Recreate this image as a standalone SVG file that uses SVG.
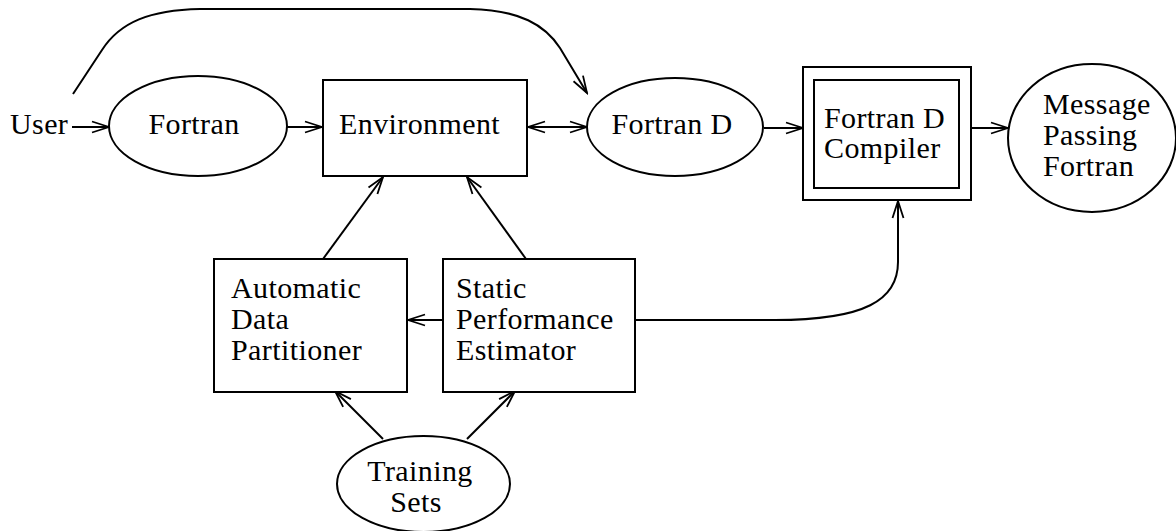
<svg xmlns="http://www.w3.org/2000/svg" width="1176" height="531" viewBox="0 0 1176 531">
<defs>
<marker id="ah" markerUnits="userSpaceOnUse" markerWidth="20" markerHeight="14" viewBox="0 0 20 14" refX="18" refY="7" orient="auto-start-reverse">
<path d="M1,1.5 L18,7 L1,12.5" fill="none" stroke="#000" stroke-width="1.8"/>
</marker>
<style>
.s{fill:#fff;stroke:#000;stroke-width:2}
.c{fill:none;stroke:#000;stroke-width:2}
.t{font-family:"Liberation Serif","Times New Roman",serif;font-size:30px;fill:#000;letter-spacing:0.4px}
.m{text-anchor:middle}
</style>
</defs>
<rect width="1176" height="531" fill="#fff"/>
<g id="connectors">
<path class="c" d="M73,94 L102,50 C120,22 150,10 200,9 L470,9 C520,10 545,25 560,48 L587,93" marker-end="url(#ah)"/>
<line class="c" x1="72" y1="127" x2="109" y2="127" marker-end="url(#ah)"/>
<line class="c" x1="287" y1="127" x2="322" y2="127" marker-end="url(#ah)"/>
<line class="c" x1="528" y1="127" x2="587" y2="127" marker-start="url(#ah)" marker-end="url(#ah)"/>
<line class="c" x1="764" y1="128" x2="803" y2="128" marker-end="url(#ah)"/>
<line class="c" x1="971" y1="128" x2="1008" y2="128" marker-end="url(#ah)"/>
<line class="c" x1="323" y1="259" x2="383" y2="177" marker-end="url(#ah)"/>
<line class="c" x1="526" y1="259" x2="467" y2="177" marker-end="url(#ah)"/>
<line class="c" x1="443" y1="320" x2="408" y2="320" marker-end="url(#ah)"/>
<path class="c" d="M635,320 L775,320 C865,320 898,300 898,262 L898,201" marker-end="url(#ah)"/>
<line class="c" x1="383" y1="439" x2="335" y2="391" marker-end="url(#ah)"/>
<line class="c" x1="467" y1="439" x2="515" y2="391" marker-end="url(#ah)"/>
</g>
<g id="user"><text class="t" x="10" y="134">User</text></g>
<g id="fortran">
<ellipse class="s" cx="198" cy="126" rx="89" ry="50"/>
<text class="t m" x="194" y="134">Fortran</text>
</g>
<g id="environment">
<rect class="s" x="323" y="80" width="204" height="96"/>
<text class="t" x="339" y="134">Environment</text>
</g>
<g id="fortran-d">
<ellipse class="s" cx="675" cy="127" rx="88" ry="49"/>
<text class="t m" x="672" y="134">Fortran D</text>
</g>
<g id="compiler">
<rect class="s" x="803" y="67" width="168" height="133"/>
<rect class="s" x="814" y="80" width="145" height="108"/>
<text class="t" x="824" y="128">Fortran D</text>
<text class="t" x="824" y="158">Compiler</text>
</g>
<g id="message-passing">
<ellipse class="s" cx="1092" cy="138" rx="84" ry="74"/>
<text class="t" x="1043" y="114">Message</text>
<text class="t" x="1043" y="145">Passing</text>
<text class="t" x="1043" y="176">Fortran</text>
</g>
<g id="partitioner">
<rect class="s" x="214" y="259" width="193" height="133"/>
<text class="t" x="231" y="298">Automatic</text>
<text class="t" x="231" y="329">Data</text>
<text class="t" x="231" y="360">Partitioner</text>
</g>
<g id="estimator">
<rect class="s" x="443" y="259" width="192" height="133"/>
<text class="t" x="456" y="298">Static</text>
<text class="t" x="456" y="329">Performance</text>
<text class="t" x="456" y="360">Estimator</text>
</g>
<g id="training">
<ellipse class="s" cx="423.5" cy="484" rx="86.5" ry="48"/>
<text class="t m" x="420" y="481">Training</text>
<text class="t m" x="416" y="512">Sets</text>
</g>
</svg>
